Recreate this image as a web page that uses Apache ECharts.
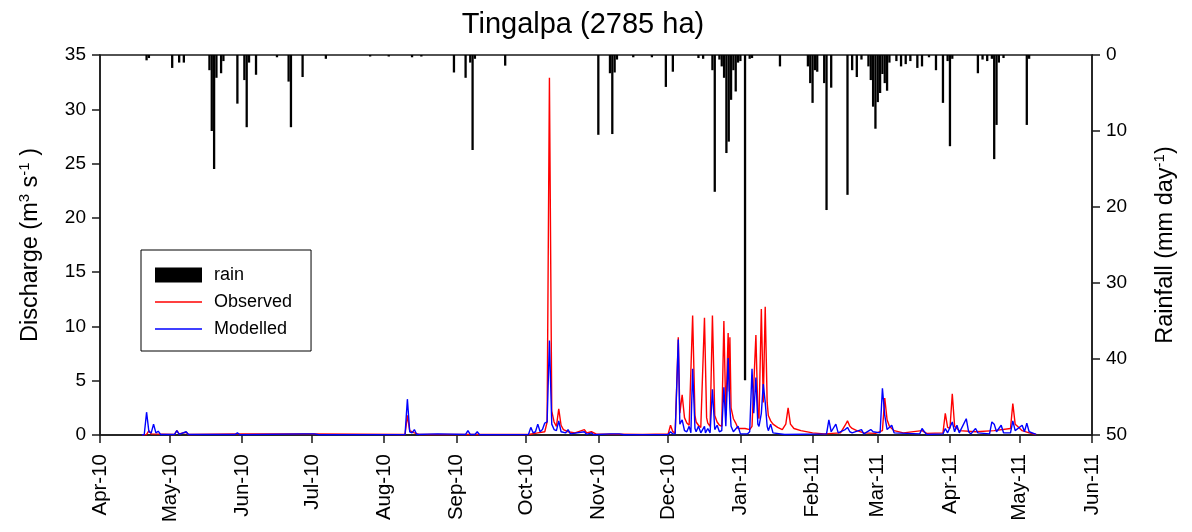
<!DOCTYPE html>
<html>
<head>
<meta charset="utf-8">
<script src="https://cdn.jsdelivr.net/npm/echarts@6/dist/echarts.min.js"></script>
<style>
html,body{margin:0;padding:0;background:#fff;}
#c{width:1192px;height:532px;}
</style>
</head>
<body>
<div id="c"></div>
<script>
// ---- Data ----
const tickDates = ['2010-04-01','2010-05-01','2010-06-01','2010-07-01','2010-08-01','2010-09-01','2010-10-01','2010-11-01','2010-12-01','2011-01-01','2011-02-01','2011-03-01','2011-04-01','2011-05-01','2011-06-01'];
const tickLabels = ['Apr-10','May-10','Jun-10','Jul-10','Aug-10','Sep-10','Oct-10','Nov-10','Dec-10','Jan-11','Feb-11','Mar-11','Apr-11','May-11','Jun-11'];

// daily rainfall (mm/day), right inverted axis
const rain = [
['2010-04-21',0.7],['2010-04-22',0.4],['2010-05-02',1.7],['2010-05-05',1.0],['2010-05-07',1.0],
['2010-05-18',2.0],['2010-05-19',10.0],['2010-05-20',15.0],['2010-05-21',3.0],['2010-05-23',2.4],['2010-05-24',0.8],
['2010-05-30',6.4],['2010-06-02',3.3],['2010-06-03',9.5],['2010-06-04',1.0],['2010-06-07',2.6],['2010-06-16',0.3],
['2010-06-21',3.5],['2010-06-22',9.5],['2010-06-27',2.9],['2010-07-07',0.5],['2010-07-26',0.2],['2010-08-03',0.2],
['2010-08-13',0.3],['2010-08-17',0.2],['2010-08-31',2.3],['2010-09-05',3.0],['2010-09-07',1.0],['2010-09-08',12.5],
['2010-09-09',0.5],['2010-09-22',1.4],['2010-11-01',10.5],['2010-11-06',2.4],['2010-11-07',10.4],['2010-11-08',2.3],
['2010-11-09',0.6],['2010-11-16',0.3],['2010-11-24',0.3],['2010-11-30',4.2],['2010-12-03',2.2],['2010-12-14',0.4],
['2010-12-16',0.5],['2010-12-20',2.0],['2010-12-21',18.0],['2010-12-23',0.6],['2010-12-24',1.5],['2010-12-25',3.0],
['2010-12-26',12.9],['2010-12-27',11.4],['2010-12-28',5.9],['2010-12-29',2.0],['2010-12-30',4.8],['2010-12-31',1.0],
['2011-01-01',0.8],['2011-01-03',42.8],['2011-01-05',0.5],['2011-01-06',0.4],['2011-01-18',1.5],['2011-01-30',1.5],
['2011-01-31',3.7],['2011-02-01',6.3],['2011-02-02',2.0],['2011-02-03',2.2],['2011-02-06',3.7],['2011-02-07',20.4],
['2011-02-09',4.3],['2011-02-16',18.4],['2011-02-18',2.0],['2011-02-20',2.9],['2011-02-22',0.6],['2011-02-25',1.5],
['2011-02-26',3.3],['2011-02-27',6.8],['2011-02-28',9.7],['2011-03-01',6.2],['2011-03-02',5.0],['2011-03-03',2.5],
['2011-03-04',3.7],['2011-03-05',4.7],['2011-03-06',1.0],['2011-03-09',0.8],['2011-03-11',1.5],['2011-03-13',1.2],
['2011-03-15',0.8],['2011-03-18',1.7],['2011-03-20',1.5],['2011-03-23',0.3],['2011-03-26',2.0],['2011-03-29',6.3],
['2011-03-31',0.8],['2011-04-01',12.0],['2011-04-02',0.5],['2011-04-13',2.4],['2011-04-15',0.6],['2011-04-17',0.8],
['2011-04-19',0.5],['2011-04-20',13.7],['2011-04-21',9.2],['2011-04-22',1.0],['2011-04-24',0.4],['2011-05-04',9.2],
['2011-05-05',0.5]
];

// observed discharge (m3/s)
const observed = [
['2010-04-19',0.02],['2010-04-21',0.05],['2010-04-22',0.4],['2010-04-23',0.1],['2010-05-03',0.05],['2010-05-04',0.4],
['2010-05-05',0.1],['2010-05-08',0.25],['2010-05-09',0.05],['2010-05-30',0.1],['2010-06-28',0.1],['2010-07-02',0.1],
['2010-08-10',0.05],['2010-08-11',1.8],['2010-08-12',0.4],['2010-08-14',0.2],['2010-08-16',0.05],['2010-10-02',0.05],
['2010-10-06',0.2],['2010-10-09',0.3],['2010-10-10',1.2],['2010-10-11',32.9],['2010-10-12',2.2],['2010-10-13',1.2],
['2010-10-14',0.8],['2010-10-15',2.4],['2010-10-16',0.9],['2010-10-17',0.5],['2010-10-19',0.3],['2010-10-22',0.2],
['2010-10-26',0.5],['2010-10-27',0.2],['2010-10-29',0.3],['2010-10-31',0.1],['2010-11-20',0.05],
['2010-12-01',0.1],['2010-12-02',0.9],['2010-12-03',0.3],['2010-12-04',0.2],['2010-12-05 08:00',9.0],['2010-12-06',2.0],
['2010-12-07',3.7],['2010-12-08',1.6],['2010-12-09',1.1],['2010-12-10',0.9],['2010-12-11 12:00',11.0],['2010-12-12 12:00',1.8],
['2010-12-13',1.2],['2010-12-14',0.9],['2010-12-15',0.7],['2010-12-16 14:00',10.8],['2010-12-17 12:00',1.6],['2010-12-18',1.1],
['2010-12-19',0.8],['2010-12-20',11.0],['2010-12-21',1.8],['2010-12-22',1.2],['2010-12-23',0.9],['2010-12-24',0.8],
['2010-12-24 22:00',10.5],['2010-12-25 18:00',1.8],['2010-12-26 18:00',9.4],['2010-12-27 06:00',4.0],['2010-12-27 12:00',9.0],
['2010-12-28',2.5],['2010-12-29',1.5],['2010-12-30',1.1],['2010-12-31',0.6],['2011-01-03',0.6],['2011-01-05',0.5],
['2011-01-06',0.8],['2011-01-07 16:00',9.2],['2011-01-08 12:00',2.0],['2011-01-09',1.5],['2011-01-10',11.6],
['2011-01-10 20:00',3.0],['2011-01-11 16:00',11.8],['2011-01-12 12:00',3.0],['2011-01-13',1.8],['2011-01-14',1.3],
['2011-01-15',1.0],['2011-01-17',0.7],['2011-01-19',0.5],['2011-01-20 12:00',1.0],['2011-01-21 12:00',2.5],
['2011-01-22 12:00',1.0],['2011-01-24',0.6],['2011-01-27',0.4],['2011-02-01',0.2],['2011-02-06',0.1],['2011-02-13',0.2],
['2011-02-15',0.9],['2011-02-16',1.3],['2011-02-17',0.8],['2011-02-18',0.6],['2011-02-20',0.4],['2011-02-23',0.2],
['2011-02-28',0.15],['2011-03-03',0.4],['2011-03-04',3.4],['2011-03-05',1.4],['2011-03-06',0.8],['2011-03-08',0.4],
['2011-03-12',0.2],['2011-03-20',0.4],['2011-03-22',0.15],['2011-03-29',0.2],['2011-03-30',2.0],['2011-03-31',0.7],
['2011-04-01',0.6],['2011-04-02',3.8],['2011-04-03',0.8],['2011-04-05',0.4],['2011-04-12',0.3],['2011-04-20',0.4],
['2011-04-27',0.6],['2011-04-28',2.9],['2011-04-29',1.0],['2011-04-30',0.8],['2011-05-02',0.4],['2011-05-05',0.2],
['2011-05-08',0.05]
];

// modelled discharge (m3/s)
const modelled = [
['2010-04-19',0.0],['2010-04-20',0.05],['2010-04-21',2.1],['2010-04-22',0.3],['2010-04-23',0.2],['2010-04-24',1.0],
['2010-04-25',0.2],['2010-04-26',0.35],['2010-04-27',0.05],['2010-05-03',0.05],['2010-05-04',0.4],['2010-05-05',0.05],
['2010-05-08',0.3],['2010-05-09',0.05],['2010-05-29',0.05],['2010-05-30',0.2],['2010-05-31',0.02],['2010-06-27',0.1],
['2010-07-02',0.1],['2010-07-04',0.02],['2010-08-10',0.05],['2010-08-11',3.3],['2010-08-12',0.3],['2010-08-13',0.2],
['2010-08-14',0.5],['2010-08-15',0.05],['2010-08-24',0.1],['2010-09-05',0.05],['2010-09-06',0.4],['2010-09-07',0.05],
['2010-09-09',0.05],['2010-09-10',0.3],['2010-09-11',0.02],['2010-10-02',0.05],['2010-10-03',0.7],['2010-10-04',0.2],
['2010-10-05',0.3],['2010-10-06',1.0],['2010-10-07',0.3],['2010-10-08',0.5],['2010-10-09',1.1],['2010-10-10',1.2],
['2010-10-11',8.7],['2010-10-12',1.0],['2010-10-13',0.5],['2010-10-14',0.4],['2010-10-15',1.3],['2010-10-16',0.3],
['2010-10-18',0.2],['2010-10-19',0.5],['2010-10-20',0.1],['2010-10-26',0.3],['2010-10-27',0.05],['2010-10-29',0.2],
['2010-10-30',0.02],['2010-11-06',0.1],['2010-11-10',0.1],['2010-11-12',0.02],['2010-12-01',0.05],['2010-12-02',0.3],
['2010-12-03',0.1],['2010-12-04',0.1],['2010-12-05 08:00',8.8],['2010-12-06',1.0],['2010-12-07',1.4],['2010-12-08',0.4],
['2010-12-09',0.3],['2010-12-10',0.8],['2010-12-10 18:00',0.2],['2010-12-11 12:00',6.1],['2010-12-12 12:00',0.6],
['2010-12-13',0.3],['2010-12-14',0.8],['2010-12-15',0.2],['2010-12-16 14:00',0.8],['2010-12-17',0.2],['2010-12-18',0.6],
['2010-12-19',0.2],['2010-12-20',4.2],['2010-12-21',0.5],['2010-12-22',0.9],['2010-12-23',0.3],['2010-12-24',0.4],
['2010-12-24 22:00',4.4],['2010-12-25 18:00',0.8],['2010-12-26 18:00',7.1],['2010-12-27 12:00',2.5],['2010-12-28',0.8],
['2010-12-29',0.3],['2010-12-31',0.8],['2011-01-01',0.1],['2011-01-04',0.1],['2011-01-05',0.3],['2011-01-06',6.1],
['2011-01-06 18:00',2.0],['2011-01-07 16:00',5.3],['2011-01-08 12:00',1.0],['2011-01-09',0.8],['2011-01-10',2.0],
['2011-01-10 20:00',4.7],['2011-01-11 16:00',3.0],['2011-01-12 12:00',0.8],['2011-01-13',0.4],['2011-01-14',1.0],
['2011-01-15',0.2],['2011-01-20',0.05],['2011-02-07',0.1],['2011-02-08',1.4],['2011-02-09',0.3],['2011-02-11',1.0],
['2011-02-12',0.2],['2011-02-15',0.5],['2011-02-16',0.7],['2011-02-17',0.3],['2011-02-18',0.2],['2011-02-22',0.5],
['2011-02-23',0.1],['2011-02-26',0.5],['2011-02-27',0.3],['2011-03-02',0.2],['2011-03-03',4.3],['2011-03-04',1.8],
['2011-03-05',0.5],['2011-03-07',0.9],['2011-03-08',0.2],['2011-03-19',0.1],['2011-03-20',0.6],['2011-03-21',0.3],
['2011-03-22',0.05],['2011-03-29',0.1],['2011-03-30',0.6],['2011-03-31',0.2],['2011-04-02',1.2],['2011-04-03',0.3],
['2011-04-04',0.9],['2011-04-05',0.2],['2011-04-08',1.5],['2011-04-09',0.3],['2011-04-10',0.1],['2011-04-12',0.6],
['2011-04-13',0.2],['2011-04-18',0.1],['2011-04-19',1.2],['2011-04-20',1.0],['2011-04-21',0.3],['2011-04-23',0.9],
['2011-04-24',0.2],['2011-04-27',0.2],['2011-04-28',1.3],['2011-04-29',0.4],['2011-05-02',0.9],['2011-05-03',0.3],
['2011-05-04',1.1],['2011-05-05',0.3],['2011-05-08',0.05]
];

// ---- Chart ----
const FONT = 'Liberation Sans, Arial, sans-serif';
const toTs = s => +new Date(s.length === 10 ? s + 'T00:00:00' : s.replace(' ', 'T') + ':00');
const tickTs = tickDates.map(toTs);
const labelOf = {};
tickTs.forEach((t, i) => { labelOf[t] = tickLabels[i]; });
const conv = arr => arr.map(p => [toTs(p[0]), p[1]]);

const chart = echarts.init(document.getElementById('c'), null, {renderer: 'canvas'});
const axisLineStyle = {color: '#1a1a1a', width: 1.5};
const richName = {
  a: {fontFamily: FONT, fontSize: 23.5, color: '#000', lineHeight: 26, verticalAlign: 'bottom'},
  s: {fontFamily: FONT, fontSize: 15, color: '#000', lineHeight: 26, verticalAlign: 'top'}
};
const LINE_ICON = 'path://M0,0H47V1.5H0Z';

chart.setOption({
  animation: false,
  backgroundColor: '#fff',
  title: {
    text: 'Tingalpa (2785 ha)',
    left: 578, top: 5, textAlign: 'center',
    textStyle: {fontFamily: FONT, fontSize: 29, fontWeight: 'normal', color: '#000'}
  },
  legend: {
    orient: 'vertical', left: 141, top: 250,
    padding: [16, 19, 13, 14],
    borderColor: '#000', borderWidth: 1,
    itemWidth: 47, itemHeight: 15, itemGap: 9,
    symbolKeepAspect: true,
    textStyle: {fontFamily: FONT, fontSize: 18, color: '#000', padding: [0, 0, 0, 7]},
    data: [
      {name: 'rain', icon: 'rect'},
      {name: 'Observed', icon: LINE_ICON},
      {name: 'Modelled', icon: LINE_ICON}
    ]
  },
  grid: {left: 100, right: 100, top: 55, bottom: 97, show: true, borderColor: '#1a1a1a', borderWidth: 1.5, containLabel: false},
  xAxis: {
    type: 'value',
    min: tickTs[0], max: tickTs[tickTs.length - 1],
    axisLine: {show: true, onZero: false, lineStyle: axisLineStyle},
    axisTick: {show: true, inside: false, length: 8, lineStyle: axisLineStyle, customValues: tickTs},
    axisLabel: {
      customValues: tickTs, rotate: 90, margin: 19,
      fontFamily: FONT, fontSize: 20.5, color: '#000',
      formatter: v => labelOf[v] || ''
    },
    splitLine: {show: false}
  },
  yAxis: [
    {
      type: 'value', min: 0, max: 35, interval: 5, position: 'left',
      name: '{a|Discharge (m}{s|3}{a| s}{s|-1}{a| )}',
      nameLocation: 'middle', nameGap: 57, nameRotate: 90,
      nameTextStyle: {rich: richName},
      axisLine: {show: true, lineStyle: axisLineStyle},
      axisTick: {show: true, inside: false, length: 8, lineStyle: axisLineStyle},
      axisLabel: {fontFamily: FONT, fontSize: 19, color: '#000', margin: 14},
      splitLine: {show: false}
    },
    {
      type: 'value', min: 0, max: 50, interval: 10, position: 'right', inverse: true,
      name: '{a|Rainfall (mm day}{s|-1}{a|)}',
      nameLocation: 'middle', nameGap: 60, nameRotate: 90,
      nameTextStyle: {rich: richName},
      axisLine: {show: true, lineStyle: axisLineStyle},
      axisTick: {show: true, inside: false, length: 8, lineStyle: axisLineStyle},
      axisLabel: {fontFamily: FONT, fontSize: 19, color: '#000', margin: 14},
      splitLine: {show: false}
    }
  ],
  series: [
    {
      name: 'Observed', type: 'line', yAxisIndex: 0, data: conv(observed),
      symbol: 'none', showSymbol: false, sampling: false,
      lineStyle: {color: '#ff0000', width: 1.4}, itemStyle: {color: '#ff0000'}, z: 2
    },
    {
      name: 'Modelled', type: 'line', yAxisIndex: 0, data: conv(modelled),
      symbol: 'none', showSymbol: false, sampling: false,
      lineStyle: {color: '#0000ff', width: 1.4}, itemStyle: {color: '#0000ff'}, z: 3
    },
    {
      name: 'rain', type: 'bar', yAxisIndex: 1, data: conv(rain),
      barWidth: 2.3, itemStyle: {color: '#000'}, z: 4
    }
  ]
});
</script>
</body>
</html>
